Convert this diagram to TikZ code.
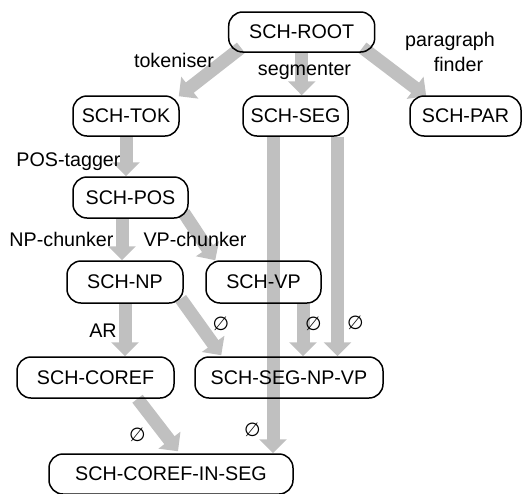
\documentclass[tikz,border=0pt]{standalone}
\usepackage{fontspec}
\setmainfont{Liberation Sans}
\newfontfamily\symfont{DejaVu Sans}
\usetikzlibrary{arrows.meta,calc,backgrounds}
\definecolor{arrgray}{RGB}{192,192,192}
\begin{document}
\begin{tikzpicture}[x=1pt,y=-1pt,
  box/.style={draw=black,line width=1.5pt,rounded corners=14pt,minimum height=40pt,inner sep=0pt,font=\fontsize{19.7}{22}\selectfont},
  lbl/.style={anchor=base,inner sep=0pt,font=\fontsize{19.7}{22}\selectfont},
  nul/.style={inner sep=0pt,font=\symfont\fontsize{19}{20}\selectfont},
  arr/.style={draw=arrgray,line width=13pt,-{Triangle[width=27pt,length=14pt]}}]
\useasboundingbox (0,0) rectangle (524,493);
% nodes
\node[box,minimum width=146pt] (root) at (301.7,32) {SCH-ROOT};
\node[box,minimum width=106pt] (tok) at (126,116) {SCH-TOK};
\node[box,minimum width=105pt] (seg) at (295.5,116) {SCH-SEG};
\node[box,minimum width=111pt] (par) at (465.5,116) {SCH-PAR};
\node[box,minimum width=115pt,minimum height=41pt] (pos) at (130.5,197.5) {SCH-POS};
\node[box,minimum width=116pt,minimum height=42pt] (np) at (125,282) {SCH-NP};
\node[box,minimum width=115pt,minimum height=42pt] (vp) at (263.5,282) {SCH-VP};
\node[box,minimum width=157pt,minimum height=41pt] (coref) at (95.5,377.5) {SCH-COREF};
\node[box,minimum width=188pt,minimum height=41pt] (snv) at (289,377.5) {SCH-SEG-NP-VP};
\node[box,minimum width=244pt] (cis) at (171,474) {SCH-COREF-IN-SEG};
% arrows
\begin{scope}[on background layer]
\draw[arr] ($(root.south west)+(13,-5)$) -- ($(tok.north east)+(-1,1)$);
\draw[arr] (root.south) -- (root.south |- seg.north);
\draw[arr] ($(root.south east)+(-13,-5)$) -- ($(par.north west)+(17,1)$);
\draw[arr] (tok.south) -- (tok.south |- pos.north);
\draw[arr] ($(pos.south)+(-8.5,0)$) -- ($(np.north)+(-3,0)$);
\draw[arr] ($(pos.south east)+(-5,-6)$) -- ($(vp.north west)+(10,0)$);
\draw[arr] ($(seg.south)+(42,0)$) -- ($(snv.north)+(48.5,0)$);
\draw[arr] ($(seg.south)+(-22.5,0)$) -- ($(cis.north)+(102,0)$);
\draw[arr] ($(vp.south)+(39.5,0)$) -- ($(snv.north)+(14,0)$);
\draw[arr] ($(np.south east)+(-3,-5)$) -- ($(snv.north west)+(27,-1)$);
\draw[arr] (np.south) -- (np.south |- coref.north);
\draw[arr] ($(coref.south)+(42,0)$) -- ($(cis.north)+(7,-2)$);
\end{scope}
% labels
\node[lbl] (ltok) at (174,67) {tokeniser};
\node[lbl] (lseg) at (304.5,75) {segmenter};
\node[lbl] (lpar1) at (450,46) {paragraph};
\node[lbl] (lpar2) at (458.5,71) {finder};
\node[lbl] (lpos) at (68.5,166) {POS-tagger};
\node[lbl] (lnp) at (61.5,246) {NP-chunker};
\node[lbl] (lvp) at (195,246) {VP-chunker};
\node[lbl] (lar) at (103,337) {AR};
\node[nul] (n1) at (221,323.5) {∅};
\node[nul] (n2) at (313.5,323.5) {∅};
\node[nul] (n3) at (355.5,323) {∅};
\node[nul] (n4) at (137.5,435) {∅};
\node[nul] (n5) at (252.5,430) {∅};
\end{tikzpicture}
\end{document}
